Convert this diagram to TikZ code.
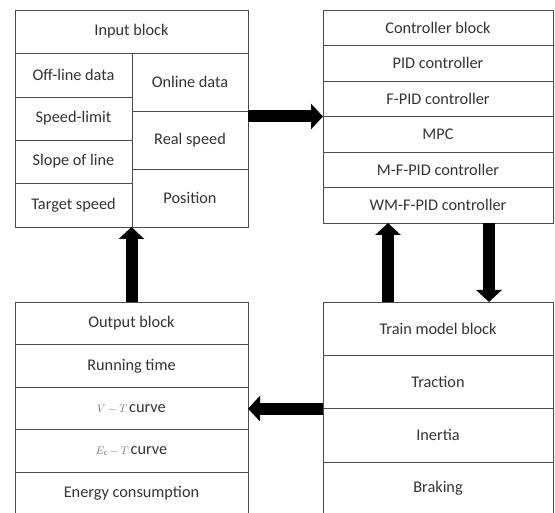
\documentclass[tikz,border=0pt]{standalone}
\usepackage{fontspec}
\setmainfont{Carlito}
\usetikzlibrary{arrows.meta}
\begin{document}
\begin{tikzpicture}[x=1pt,y=-1pt,
  cell/.style={draw=black!70, line width=0.8pt, anchor=north west, inner sep=0pt, outer sep=0pt,
    text=black!80, font=\fontsize{16.3}{19}\selectfont, align=center},
  bigarrow/.style={line width=12pt, -{Triangle[length=12pt,width=25pt]}}]
\useasboundingbox (0,0) rectangle (555,513);
% Input block
\node[cell, minimum width=233pt, minimum height=43pt] (inp) at (15,10) {Input block};
\node[cell, minimum width=117pt, minimum height=44pt] (off) at (15,53) {Off-line data};
\node[cell, minimum width=117pt, minimum height=43pt] (slim) at (15,97) {Speed-limit};
\node[cell, minimum width=117pt, minimum height=43pt] (slope) at (15,140) {Slope of line};
\node[cell, minimum width=117pt, minimum height=44pt] (target) at (15,183) {Target speed};
\node[cell, minimum width=116pt, minimum height=58pt] (online) at (132,53) {Online data};
\node[cell, minimum width=116pt, minimum height=58pt] (real) at (132,111) {Real speed};
\node[cell, minimum width=116pt, minimum height=58pt] (pos) at (132,169) {Position};
% Controller block
\node[cell, minimum width=230pt, minimum height=35.5pt] (ctrl) at (323,10) {Controller block};
\node[cell, minimum width=230pt, minimum height=35.5pt] (pid) at (323,45.5) {PID controller};
\node[cell, minimum width=230pt, minimum height=35.5pt] (fpid) at (323,81) {F-PID controller};
\node[cell, minimum width=230pt, minimum height=35.5pt] (mpc) at (323,116.5) {MPC};
\node[cell, minimum width=230pt, minimum height=35.5pt] (mfpid) at (323,152) {M-F-PID controller};
\node[cell, minimum width=230pt, minimum height=35.5pt] (wm) at (323,187.5) {WM-F-PID controller};
% Train model block
\node[cell, minimum width=230pt, minimum height=53.3pt] (train) at (323,302) {Train model block};
\node[cell, minimum width=230pt, minimum height=53.3pt] (traction) at (323,355.3) {Traction};
\node[cell, minimum width=230pt, minimum height=53.3pt] (inertia) at (323,408.6) {Inertia};
\node[cell, minimum width=230pt, minimum height=53.3pt] (braking) at (323,461.9) {Braking};
% Output block
\node[cell, minimum width=233pt, minimum height=42.6pt] (out) at (15,302) {Output block};
\node[cell, minimum width=233pt, minimum height=42.6pt] (run) at (15,344.6) {Running time};
\node[cell, minimum width=233pt, minimum height=42.6pt] (vt) at (15,387.2) {{\color{black!55}\fontsize{11}{13}\selectfont$V-T$\,}curve};
\node[cell, minimum width=233pt, minimum height=42.6pt] (et) at (15,429.8) {{\color{black!55}\fontsize{11}{13}\selectfont$E_{\mathrm{c}}-T$\,}curve};
\node[cell, minimum width=233pt, minimum height=42.6pt] (energy) at (15,472.4) {Energy consumption};
% Connectors
\draw[bigarrow] (real.east |- mpc.north west) -- (mpc.north west);
\draw[bigarrow] ([xshift=65pt]train.north west) -- ([xshift=65pt]wm.south west);
\draw[bigarrow] ([xshift=166pt]wm.south west) -- ([xshift=166pt]train.north west);
\draw[bigarrow] (out.north) -- (out.north |- target.south);
\draw[bigarrow] (traction.south west) -- (traction.south west -| vt.east);
\end{tikzpicture}
\end{document}
